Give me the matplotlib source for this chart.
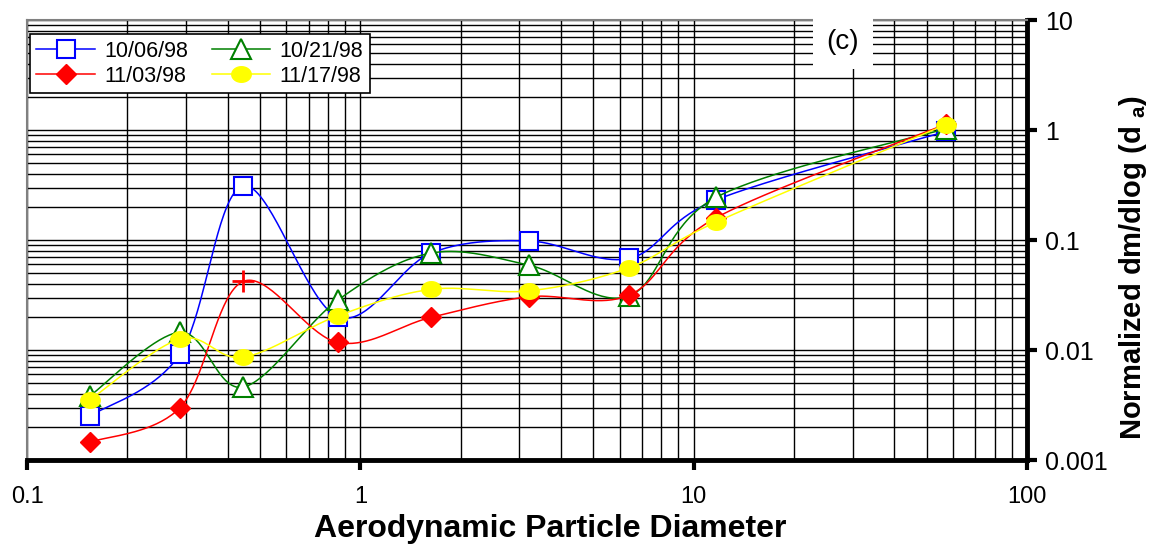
import numpy as np
import matplotlib.pyplot as plt
from matplotlib.lines import Line2D
from matplotlib.path import Path
from matplotlib.ticker import LogLocator, NullFormatter

plt.rcParams['font.family'] = ['Liberation Sans', 'DejaVu Sans']
plt.rcParams['mathtext.fontset'] = 'custom'
plt.rcParams['mathtext.rm'] = 'Liberation Sans:bold'
plt.rcParams['mathtext.bf'] = 'Liberation Sans:bold'

# aerodynamic diameter of each stage
diam = [0.154, 0.288, 0.445, 0.857, 1.63, 3.21, 6.4, 11.7, 57.2]

# normalized dm/dlog(da) per sampling date
s_1006 = [0.0025, 0.0092, 0.31, 0.020, 0.076, 0.098, 0.068, 0.232, 0.97]
s_1021 = [0.0038, 0.0145, 0.0046, 0.0285, 0.076, 0.059, 0.031, 0.245, 1.03]
s_1103 = [0.00145, 0.0030, 0.042, 0.0117, 0.0198, 0.0305, 0.0315, 0.160, 1.13]
s_1117 = [0.0035, 0.0126, 0.0086, 0.0205, 0.0356, 0.0345, 0.056, 0.146, 1.12]
red_marks = ['D', 'D', '+', 'D', 'D', 'D', 'D', 'D', 'D']

xticks = [0.1, 1, 10, 100]
xlabels = ['0.1', '1', '10', '100']
yticks = [0.001, 0.01, 0.1, 1, 10]
ylabels = ['0.001', '0.01', '0.1', '1', '10']


def smooth(x, y, n=40):
    # excel-like smoothed line (catmull-rom bezier) in log space
    lx = np.log10(x)
    ly = np.log10(y)
    p = np.column_stack([lx, ly])
    p = np.vstack([p[0], p, p[-1]])
    out = []
    t = np.linspace(0, 1, n)[:, None]
    for i in range(1, len(p) - 2):
        p0, p1, p2, p3 = p[i - 1], p[i], p[i + 1], p[i + 2]
        c1 = p1 + (p2 - p0) / 6
        c2 = p2 - (p3 - p1) / 6
        seg = ((1 - t) ** 3) * p1 + 3 * ((1 - t) ** 2) * t * c1 + 3 * (1 - t) * t ** 2 * c2 + t ** 3 * p2
        out.append(seg)
    out = np.vstack(out)
    return 10 ** out[:, 0], 10 ** out[:, 1]


th = np.linspace(0, 2 * np.pi, 60)
ellipse = Path(np.column_stack([1.25 * np.cos(th), np.sin(th)]), closed=True)

fig = plt.figure(figsize=(11.52, 5.44), dpi=100)
ax = fig.add_axes([27 / 1152, 84 / 544, 1000 / 1152, 440 / 544])
ax.set_xscale('log')
ax.set_yscale('log')
ax.set_xlim(0.1, 100)
ax.set_ylim(0.001, 10)

lw = 1.1
ms = 13

sx, sy = smooth(diam, s_1006)
ax.plot(sx, sy, color='#0000ff', lw=lw, zorder=3)
ax.plot(diam, s_1006, ls='none', marker='s', ms=ms, mfc='white', mec='#0000ff', mew=1.5, zorder=4)

sx, sy = smooth(diam, s_1021)
ax.plot(sx, sy, color='#008000', lw=lw, zorder=5)
ax.plot(diam, s_1021, ls='none', marker='^', ms=ms + 1, mfc='white', mec='#008000', mew=1.5, zorder=6)

sx, sy = smooth(diam, s_1103)
ax.plot(sx, sy, color='#ff0000', lw=lw, zorder=7)
for xv, yv, m in zip(diam, s_1103, red_marks):
    if m == '+':
        ax.plot(xv, yv, marker='+', ms=16, mec='#ff0000', mew=2, zorder=8)
    else:
        ax.plot(xv, yv, marker='D', ms=10, mfc='#ff0000', mec='#ff0000', zorder=8)

sx, sy = smooth(diam, s_1117)
ax.plot(sx, sy, color='#ffff00', lw=lw, zorder=9)
ax.plot(diam, s_1117, ls='none', marker=ellipse, ms=ms + 1, mfc='#ffff00', mec='#ffff00', zorder=10)

# grid
ax.xaxis.set_minor_locator(LogLocator(base=10, subs=np.arange(2, 10)))
ax.yaxis.set_minor_locator(LogLocator(base=10, subs=np.arange(2, 10)))
ax.xaxis.set_minor_formatter(NullFormatter())
ax.yaxis.set_minor_formatter(NullFormatter())
ax.grid(True, which='both', color='black', lw=1.0)
ax.set_axisbelow(True)

ax.set_xticks(xticks)
ax.set_xticklabels(xlabels)
ax.set_yticks(yticks)
ax.set_yticklabels(ylabels)
ax.yaxis.tick_right()
ax.yaxis.set_label_position('right')
ax.tick_params(which='minor', length=0)
ax.tick_params(axis='x', which='major', direction='out', length=7, width=3, labelsize=17, pad=12)
ax.tick_params(axis='y', which='major', direction='out', length=7, width=3, labelsize=18, pad=6)

for side in ['top', 'left']:
    ax.spines[side].set_color('#808080')
    ax.spines[side].set_linewidth(1.5)
for side in ['right', 'bottom']:
    ax.spines[side].set_color('black')
    ax.spines[side].set_linewidth(3.5)

ax.set_xlabel('Aerodynamic Particle Diameter', fontsize=23, fontweight='bold')
ax.xaxis.set_label_coords(0.523, -0.157, transform=ax.transAxes)
ax.set_ylabel(r'Normalized dm/dlog (d $_{\mathregular{a}}$)', fontsize=21, fontweight='bold',
              rotation=90)
ax.yaxis.set_label_coords(1.106, 0.436, transform=ax.transAxes)
ax.yaxis.label.set_va('center')
ax.xaxis.label.set_va('center')

handles = [
    Line2D([], [], color='#0000ff', lw=lw, marker='s', ms=ms, mfc='white', mec='#0000ff', mew=1.5),
    Line2D([], [], color='#ff0000', lw=lw, marker='D', ms=10, mfc='#ff0000', mec='#ff0000'),
    Line2D([], [], color='#008000', lw=lw, marker='^', ms=ms + 1, mfc='white', mec='#008000', mew=1.5),
    Line2D([], [], color='#ffff00', lw=lw, marker=ellipse, ms=ms + 1, mfc='#ffff00', mec='#ffff00'),
]
leg = ax.legend(handles, ['10/06/98', '11/03/98', '10/21/98', '11/17/98'], ncol=2,
                loc='upper left', bbox_to_anchor=(0.003, 0.968), borderaxespad=0,
                fontsize=15.5, handlelength=2.7, handletextpad=0.45, columnspacing=1.1,
                labelspacing=0.2, borderpad=0.3, fancybox=False, framealpha=1,
                edgecolor='black')
leg.get_frame().set_linewidth(1.2)
leg.set_zorder(20)

ax.text(0.816, 0.95, '(c)', transform=ax.transAxes, fontsize=20, ha='center', va='center',
        zorder=20, bbox=dict(boxstyle='square,pad=0.5', facecolor='white', edgecolor='none'))

fig.savefig('out.png', dpi=100)
